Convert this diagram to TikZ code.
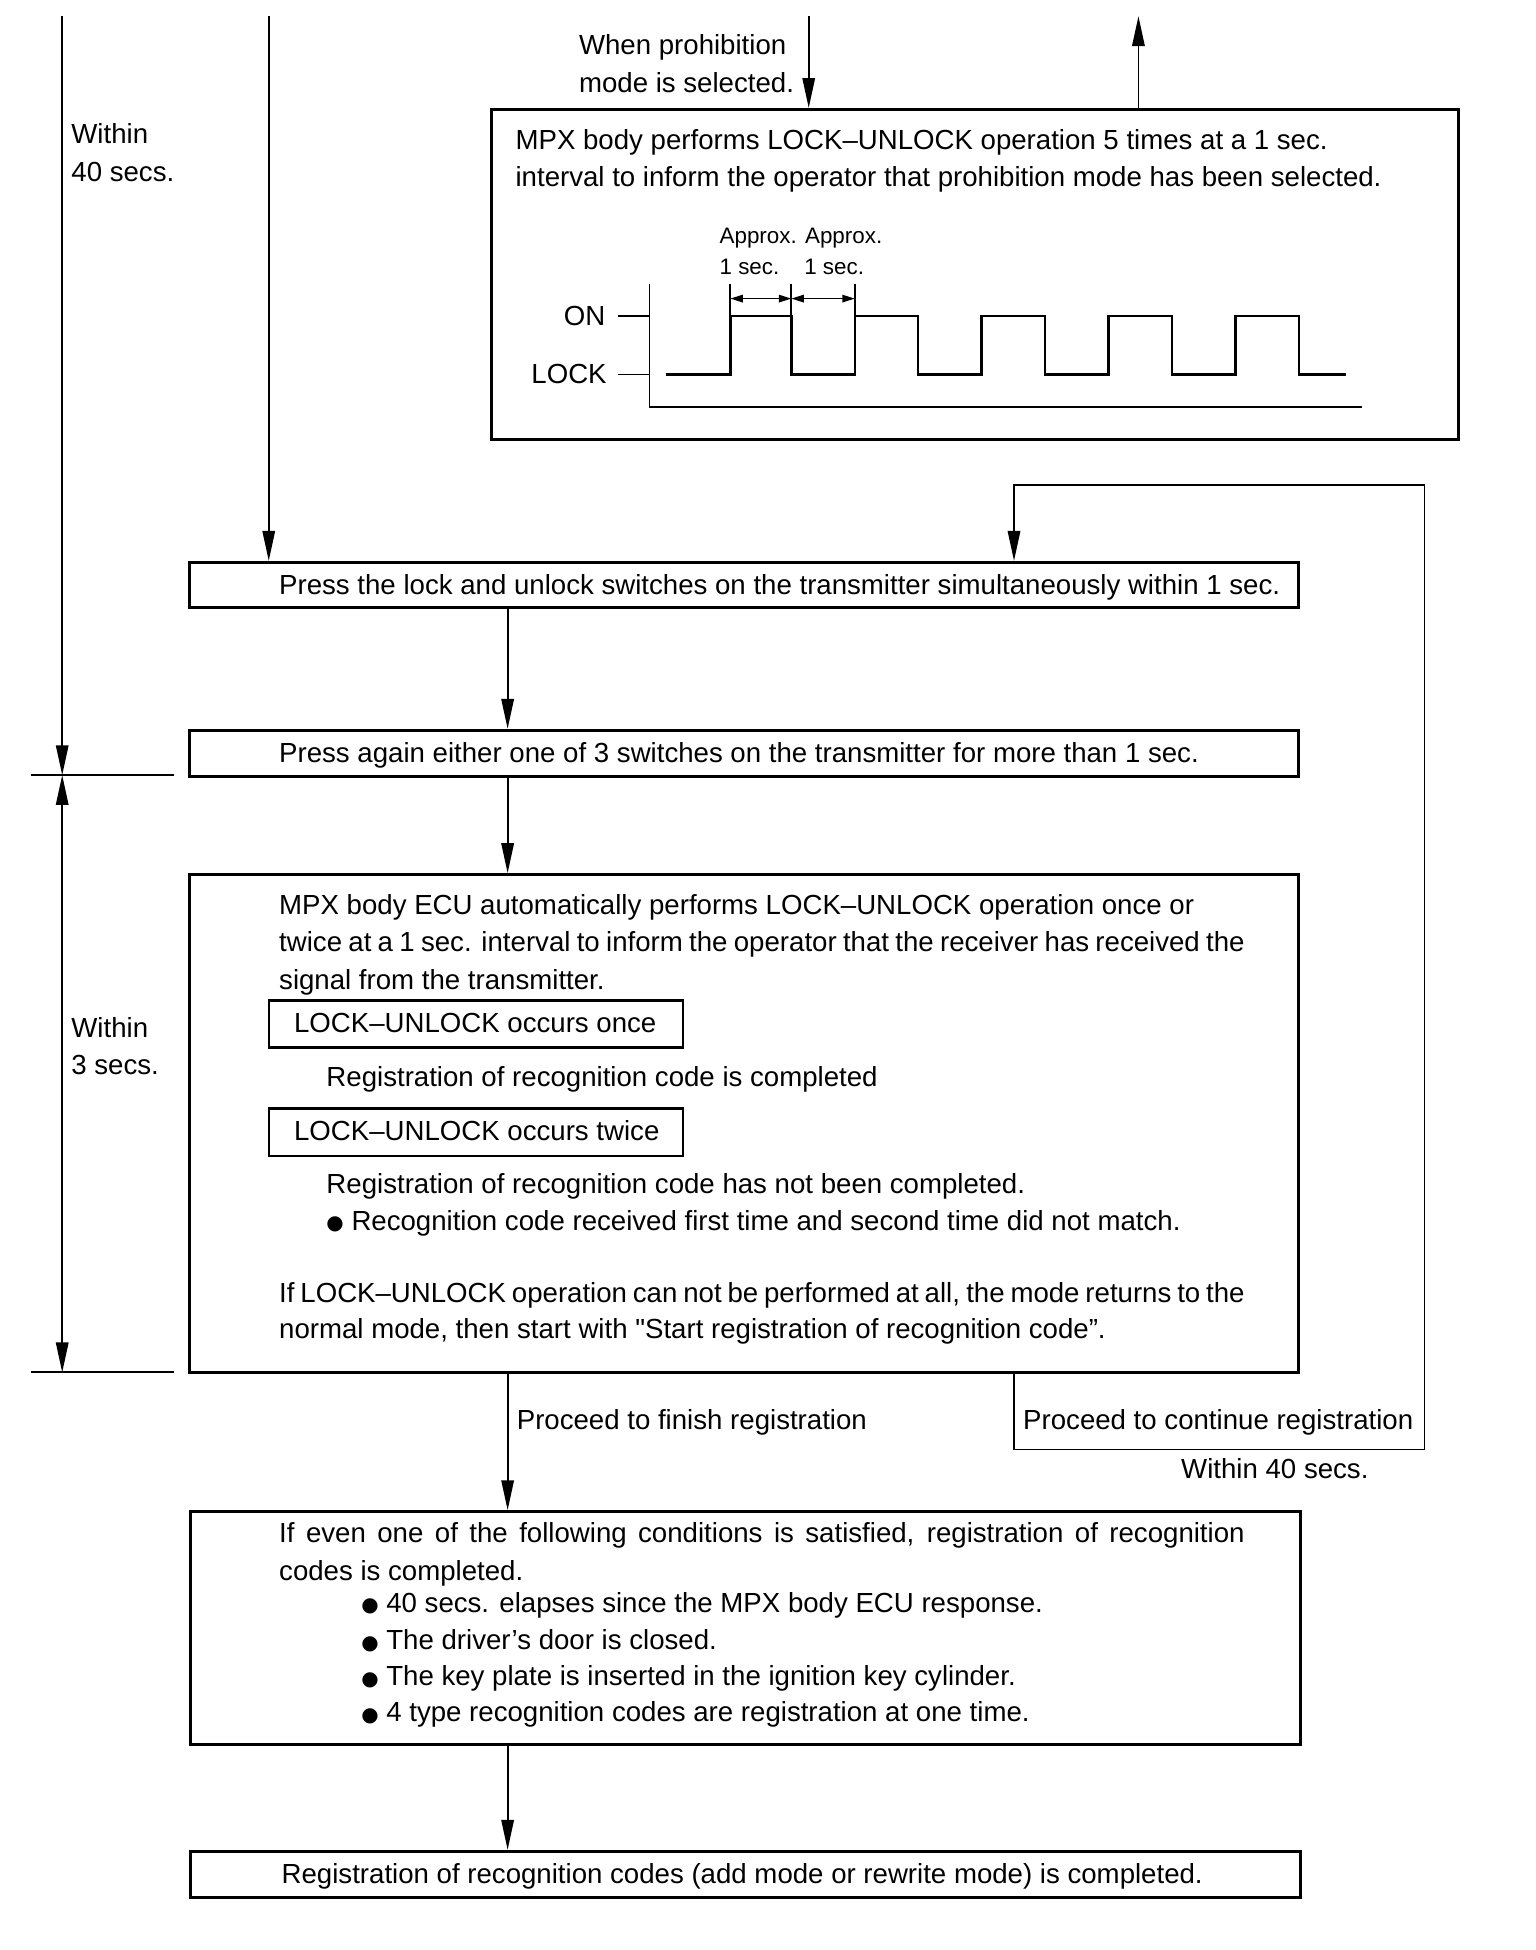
\documentclass[tikz,border=0pt]{standalone}
\usepackage{fontspec}
\usepackage{graphicx}
\setmainfont{Liberation Sans}
\newfontfamily\dejavu{DejaVu Sans}
\usetikzlibrary{arrows.meta,fit}
\newcommand{\bul}{{\dejavu\raisebox{0.05ex}{\scalebox{0.72}{●}}}}
\newcommand{\sq}{{\addfontfeatures{Ligatures=TeXOff}"}}
\begin{document}
\begin{tikzpicture}[x=0.5pt,y=-0.5pt,
  box/.style={draw, line width=1.25pt, inner sep=0pt},
  subbox/.style={draw, line width=1pt, inner sep=0pt},
  conn/.style={line width=0.7pt},
  arr/.style={conn, -{Triangle[length=12pt,width=5pt]}},
  darr/.style={conn, {Triangle[length=12pt,width=5pt]}-{Triangle[length=12pt,width=5pt]}},
  tx/.style={anchor=base west, inner sep=0pt, font=\fontsize{11.1}{15}\selectfont},
  txe/.style={anchor=base east, inner sep=0pt, font=\fontsize{11.1}{15}\selectfont},
  sm/.style={anchor=base west, inner sep=0pt, font=\fontsize{9}{11}\selectfont},
  wave/.style={line width=1pt},
  dim/.style={line width=0.6pt, {Triangle[length=5pt,width=3pt]}-{Triangle[length=5pt,width=3pt]}}
]
\useasboundingbox (0,0) rectangle (1234.5,1567.3);

% boxes
\node[box, fit={(395,88) (1172,353)}] (b1) {};
\node[box, fit={(152,452) (1044,488)}] (b2) {};
\node[box, fit={(152,587) (1044,624)}] (b3) {};
\node[box, fit={(152,703) (1044,1103)}] (b4) {};
\node[subbox, fit={(216,804) (549,842)}] (s1) {};
\node[subbox, fit={(216,891) (549,929)}] (s2) {};
\node[box, fit={(153,1215) (1045,1402)}] (b5) {};
\node[box, fit={(153,1488) (1045,1525)}] (b6) {};

% free ends
\coordinate (t1) at (50,13);
\coordinate (t2) at (216,13);
\coordinate (t3) at (650,13);
\coordinate (t4) at (915,13);
\coordinate (cx) at (408,0);
\coordinate (lx) at (815,0);
\coordinate (c1) at (815,1165);
\coordinate (c2) at (1145,1165);
\coordinate (c3) at (1145,390);
\coordinate (c4) at (815,390);
\coordinate (d1) at (50,623);
\coordinate (d2) at (50,1103);

% left dimension lines
\draw[arr] (t1) -- (d1);
\draw[darr] (d1) -- (d2);
\draw[conn] (25,623) -- (140,623);
\draw[conn] (25,1103) -- (140,1103);
\node[tx] (w1a) at (57,115) {Within};
\node[tx] (w1b) at (57,146) {40 secs.};
\node[tx] (w2a) at (57,834) {Within};
\node[tx] (w2b) at (57,864) {3 secs.};

% top arrows
\draw[arr] (t2) -- (t2 |- b2.north);
\draw[arr] (t3) -- (t3 |- b1.north);
\draw[arr] (t4 |- b1.north) -- (t4);
\node[tx] (pm1) at (465,44) {When prohibition};
\node[tx] (pm2) at (465,74) {mode is selected.};

% box 1 text
\node[tx] (b1l1) at (414,120) {MPX body performs LOCK–UNLOCK operation 5 times at a 1 sec.};
\node[tx] (b1l2) at (414,150) {interval to inform the operator that prohibition mode has been selected.};

% timing diagram
\node[sm] (ap1) at (578,196) {Approx. Approx.};
\node[sm] (se1) at (578,221) {1 sec.};
\node[sm] (se2) at (646,221) {1 sec.};
\node[txe] (on) at (487,262) {ON};
\node[txe] (lk) at (488,308) {LOCK};
\draw[conn] (522,228) -- (522,327) -- (1095,327);
\draw[conn] (497,254) -- (522,254);
\draw[conn] (497,301) -- (522,301);
\draw[wave] (535,301) -- (587,301) -- (587,254) -- (636,254) -- (636,301) -- (687,301) -- (687,254)
  -- (738,254) -- (738,301) -- (789,301) -- (789,254) -- (840,254) -- (840,301) -- (891,301)
  -- (891,254) -- (942,254) -- (942,301) -- (993,301) -- (993,254) -- (1044,254) -- (1044,301) -- (1082,301);
\draw[conn] (587,228) -- (587,254);
\draw[conn] (636,228) -- (636,254);
\draw[conn] (687,228) -- (687,254);
\draw[dim] (587,240) -- (636,240);
\draw[dim] (636,240) -- (687,240);

% box 2, 3
\node[tx] (b2t) at (224,478) {Press the lock and unlock switches on the transmitter simultaneously within 1 sec.};
\node[tx] (b3t) at (224,613) {Press again either one of 3 switches on the transmitter for more than 1 sec.};

% box 4
\node[tx] (b4l1) at (224,735) {MPX body ECU automatically performs LOCK–UNLOCK operation once or};
\node[tx] (b4l2) at (224,765) {\makebox[388pt][s]{twice at a 1 sec. interval to inform the operator that the receiver has received the}};
\node[tx] (b4l3) at (224,795) {signal from the transmitter.};
\node[tx] (s1t) at (236,830) {LOCK–UNLOCK occurs once};
\node[tx] (b4l4) at (262,873) {Registration of recognition code is completed};
\node[tx] (s2t) at (236,917) {LOCK–UNLOCK occurs twice};
\node[tx] (b4l5) at (262,959) {Registration of recognition code has not been completed.};
\node[tx] (b4l6) at (262,989) {\bul\ Recognition code received first time and second time did not match.};
\node[tx] (b4l7) at (224,1047) {\makebox[388pt][s]{If LOCK–UNLOCK operation can not be performed at all, the mode returns to the}};
\node[tx] (b4l8) at (224,1076) {normal mode, then start with \sq Start registration of recognition code”.};

% connectors
\draw[arr] (b2.south -| cx) -- (b3.north -| cx);
\draw[arr] (b3.south -| cx) -- (b4.north -| cx);
\draw[arr] (b4.south -| cx) -- (b5.north -| cx);
\draw[arr] (b5.south -| cx) -- (b6.north -| cx);
\draw[arr] (b4.south -| lx) -- (c1) -- (c2) -- (c3) -- (c4) -- (b2.north -| lx);
\node[tx] (fin) at (415,1149) {Proceed to finish registration};
\node[tx] (cont) at (822,1149) {Proceed to continue registration};
\node[tx] (w40) at (949,1188) {Within 40 secs.};

% box 5
\node[tx] (b5l1) at (224,1240) {\makebox[388pt][s]{If even one of the following conditions is satisfied, registration of recognition}};
\node[tx] (b5l2) at (224,1270) {codes is completed.};
\node[tx] (b5l3) at (290,1296) {\bul\ 40 secs. elapses since the MPX body ECU response.};
\node[tx] (b5l4) at (290,1326) {\bul\ The driver’s door is closed.};
\node[tx] (b5l5) at (290,1355) {\bul\ The key plate is inserted in the ignition key cylinder.};
\node[tx] (b5l6) at (290,1384) {\bul\ 4 type recognition codes are registration at one time.};

% box 6
\node[tx] (b6t) at (226,1514) {Registration of recognition codes (add mode or rewrite mode) is completed.};
\end{tikzpicture}
\end{document}
